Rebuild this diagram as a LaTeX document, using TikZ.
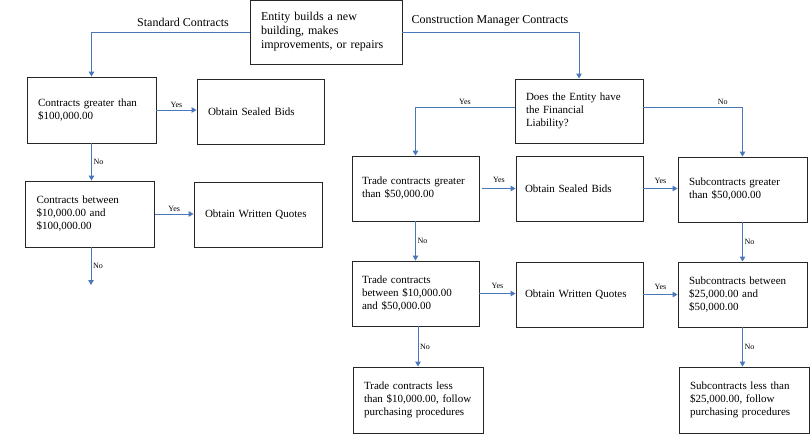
\documentclass[tikz,border=0pt]{standalone}
\usepackage{fontspec}
\setmainfont{Liberation Serif}
\usetikzlibrary{arrows.meta}
\definecolor{linkblue}{RGB}{74,118,186}
\begin{document}
\begin{tikzpicture}[x=1pt,y=-1pt,
  box/.style={draw=black!85, line width=0.9pt, inner xsep=11pt, inner ysep=2pt, align=left, font=\fontsize{11}{13}\selectfont},
  link/.style={draw=linkblue, line width=1pt, -{Triangle[width=5.5pt,length=5pt]}},
  lab/.style={font=\fontsize{8}{9}\selectfont, inner sep=1.5pt},
  ttl/.style={font=\fontsize{12}{14}\selectfont, inner sep=0pt}]
\useasboundingbox (0,0) rectangle (811,437);

% boxes
\node[box, minimum width=152pt, minimum height=64pt, text width=130pt, font=\fontsize{12}{14}\selectfont] (top) at (326,32) {Entity builds a new\\building, makes\\improvements, or repairs};
\node[box, minimum width=129pt, minimum height=66pt, text width=107pt] (sc1) at (91.5,110) {Contracts greater than\\\$100,000.00};
\node[box, minimum width=127pt, minimum height=65pt, text width=105pt] (sb1) at (260.5,111.5) {Obtain Sealed Bids};
\node[box, minimum width=129pt, minimum height=66pt, text width=107pt] (sc2) at (90,214) {Contracts between\\\$10,000.00 and\\\$100,000.00};
\node[box, minimum width=128pt, minimum height=65pt, text width=106pt] (wq1) at (258,214.5) {Obtain Written Quotes};

\node[box, minimum width=128pt, minimum height=64pt, text width=106pt] (dec) at (579,111) {Does the Entity have\\the Financial\\Liability?};
\node[box, minimum width=127pt, minimum height=65pt, text width=107pt, inner xsep=10pt] (tg) at (415.5,188.5) {Trade contracts greater\\than \$50,000.00};
\node[box, minimum width=127pt, minimum height=65pt, text width=109pt, inner xsep=9pt] (sb2) at (579.5,188.5) {Obtain Sealed Bids};
\node[box, minimum width=129pt, minimum height=65pt, text width=107pt] (subg) at (742.5,189.5) {Subcontracts greater\\than \$50,000.00};
\node[box, minimum width=127pt, minimum height=65pt, text width=107pt, inner xsep=10pt] (tb) at (415.5,293.5) {Trade contracts\\between \$10,000.00\\and \$50,000.00};
\node[box, minimum width=127pt, minimum height=65pt, text width=109pt, inner xsep=9pt] (wq2) at (579.5,294.5) {Obtain Written Quotes};
\node[box, minimum width=129pt, minimum height=65pt, text width=107pt] (subb) at (742.5,294.5) {Subcontracts between\\\$25,000.00 and\\\$50,000.00};
\node[box, minimum width=130pt, minimum height=66pt, text width=108pt] (tl) at (418,400) {Trade contracts less\\than \$10,000.00, follow\\purchasing procedures};
\node[box, minimum width=130pt, minimum height=66pt, text width=108pt] (subl) at (744,400) {Subcontracts less than\\\$25,000.00, follow\\purchasing procedures};

% titles
\node[ttl] (lstd) at (183,22) {Standard Contracts};
\node[ttl] (lcm) at (490,21) {Construction Manager Contracts};

% connectors, left
\draw[link] (top.west) -| (sc1.north);
\draw[link] (top.east) -| (dec.north);
\draw[link] (sc1.east) -- (sc1.east -| sb1.west) node[lab, midway, above] (y1) {Yes};
\draw[link] (sc1.south) -- (sc1.south |- sc2.north) node[lab, midway, right] (n1) {No};
\draw[link] (sc2.east) -- (sc2.east -| wq1.west) node[lab, midway, above] (y2) {Yes};
\coordinate (lend) at (91,285);
\draw[link] (sc2.south -| lend) -- (lend) node[lab, midway, right] (n2) {No};

% connectors, right
\draw[link] ([yshift=4pt]dec.west) -| (tg.north) node[lab, pos=0.25, above] (y3) {Yes};
\draw[link] ([yshift=4pt]dec.east) -| (subg.north) node[lab, pos=0.4, above] (n3) {No};
\draw[link] ([xshift=3pt]tg.east) -- (tg.east -| sb2.west) node[lab, midway, above=4pt] (y4) {Yes};
\draw[link] (sb2.east) -- (sb2.east -| subg.west) node[lab, midway, above=3pt] (y5) {Yes};
\draw[link] (tg.south) -- (tg.south |- tb.north) node[lab, midway, right] (n4) {No};
\draw[link] (tb.east) -- (tb.east -| wq2.west) node[lab, midway, above=3pt] (y6) {Yes};
\draw[link] (wq2.east) -- (wq2.east -| subb.west) node[lab, midway, above=3pt] (y7) {Yes};
\draw[link] (subg.south) -- (subg.south |- subb.north) node[lab, midway, right] (n5) {No};
\draw[link] (tb.south -| tl.north) -- (tl.north) node[lab, midway, right] (n6) {No};
\draw[link] (subb.south) -- (subb.south |- subl.north) node[lab, midway, right] (n7) {No};
\end{tikzpicture}
\end{document}
